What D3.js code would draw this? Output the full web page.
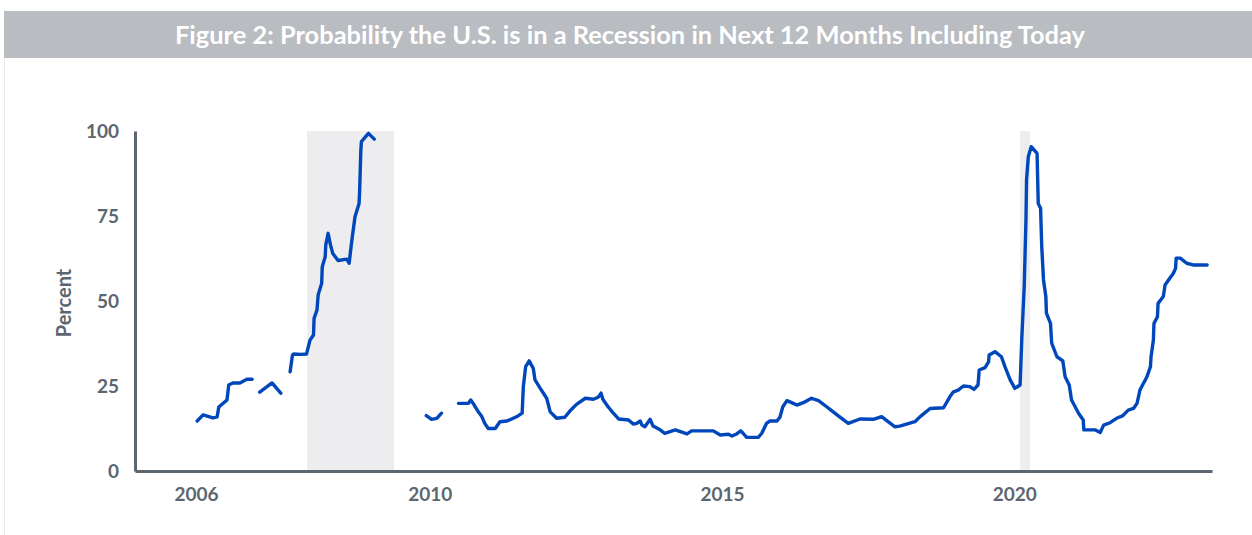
<!DOCTYPE html>
<html>
<head>
<meta charset="utf-8">
<script src="https://cdn.jsdelivr.net/npm/d3@7"></script>
<style>
  body { margin: 0; background: #fff; }
  text { font-family: Lato, "Open Sans", sans-serif; }
</style>
</head>
<body>
<div id="chart"></div>
<script>
const title = 'Figure 2: Probability the U.S. is in a Recession in Next 12 Months Including Today';
const yLabel = 'Percent';
const xTicks = [2006, 2010, 2015, 2020];
const yTicks = [0, 25, 50, 75, 100];

// recession periods (decimal years)
const recessionStart = [2007.90, 2020.10];
const recessionEnd = [2009.39, 2020.27];

// decimal year of each reading, null value = gap in the series
const dates = [
    2006.02, 2006.12, 2006.29, 2006.36, 2006.39, 2006.53, 2006.56, 2006.63, 2006.75, 2006.87, 2006.96,
    2007.02,
    2007.09, 2007.30, 2007.45,
    2007.53,
    2007.61, 2007.65, 2007.67, 2007.80, 2007.89, 2007.95, 2008.01, 2008.02, 2008.07, 2008.09, 2008.15,
    2008.16, 2008.21, 2008.22, 2008.26, 2008.30, 2008.34, 2008.43, 2008.58, 2008.62, 2008.66, 2008.72,
    2008.79, 2008.80, 2008.81, 2008.82, 2008.83, 2008.95, 2009.05,
    2009.50,
    2009.94, 2010.03, 2010.12, 2010.20,
    2010.35,
    2010.49, 2010.66, 2010.70, 2010.76, 2010.83, 2010.89, 2010.94, 2011.00, 2011.12, 2011.20, 2011.32,
    2011.40, 2011.51, 2011.58, 2011.60, 2011.64, 2011.70, 2011.77, 2011.80, 2011.89, 2012.00, 2012.06,
    2012.17, 2012.31, 2012.40, 2012.51, 2012.66, 2012.80, 2012.88, 2012.93, 2012.96, 2013.05, 2013.14,
    2013.23, 2013.40, 2013.48, 2013.54, 2013.60, 2013.63, 2013.68, 2013.77, 2013.82, 2013.94, 2014.02,
    2014.20, 2014.40, 2014.48, 2014.85, 2014.97, 2015.11, 2015.17, 2015.25, 2015.32, 2015.36, 2015.42,
    2015.62, 2015.68, 2015.76, 2015.82, 2015.94, 2015.99, 2016.04, 2016.11, 2016.19, 2016.28, 2016.39,
    2016.53, 2016.65, 2016.79, 2016.88, 2016.99, 2017.16, 2017.36, 2017.59, 2017.73, 2017.84, 2017.96,
    2018.04, 2018.30, 2018.39, 2018.56, 2018.79, 2018.90, 2018.96, 2019.04, 2019.13, 2019.24, 2019.31,
    2019.38, 2019.40, 2019.50, 2019.56, 2019.57, 2019.67, 2019.78, 2019.84, 2019.93, 2020.01, 2020.10,
    2020.13, 2020.17, 2020.20, 2020.21, 2020.24, 2020.29, 2020.39, 2020.41, 2020.45, 2020.47, 2020.50,
    2020.54, 2020.55, 2020.62, 2020.63, 2020.64, 2020.73, 2020.83, 2020.87, 2020.94, 2020.98, 2021.10,
    2021.18, 2021.19, 2021.38, 2021.47, 2021.53, 2021.64, 2021.75, 2021.85, 2021.95, 2022.04, 2022.10,
    2022.15, 2022.27, 2022.33, 2022.34, 2022.38, 2022.39, 2022.45, 2022.46, 2022.55, 2022.58, 2022.66,
    2022.72, 2022.76, 2022.77, 2022.84, 2022.95, 2023.06, 2023.30
];
const probs = [
    14.7, 16.5, 15.6, 15.9, 18.8, 20.9, 25.3, 25.9, 25.9, 27.0, 27.0,
    null,
    23.2, 25.9, 22.9,
    null,
    29.2, 34.1, 34.4, 34.3, 34.4, 38.5, 40.0, 44.9, 47.4, 51.8, 55.2,
    60.1, 63.0, 66.5, 69.9, 66.5, 64.0, 61.9, 62.3, 61.1, 67.0, 74.8,
    78.7, 82.6, 88.5, 94.4, 96.9, 99.3, 97.6,
    null,
    16.3, 15.2, 15.5, 17.0,
    null,
    19.9, 19.9, 20.9, 19.4, 17.4, 16.0, 14.0, 12.5, 12.5, 14.5, 14.7,
    15.3, 16.2, 17.0, 24.8, 30.7, 32.4, 30.2, 26.8, 24.3, 21.4, 17.4,
    15.5, 15.8, 17.7, 19.6, 21.4, 21.1, 21.7, 22.9, 21.1, 18.9, 17.0,
    15.3, 15.0, 13.8, 14.0, 14.7, 13.5, 13.0, 15.2, 13.2, 12.1, 11.1,
    12.1, 10.9, 11.8, 11.8, 10.6, 10.8, 10.3, 10.9, 11.8, 11.1, 9.9,
    9.9, 11.1, 14.0, 14.7, 14.7, 15.8, 18.9, 20.7, 20.1, 19.4, 20.1,
    21.4, 20.7, 18.9, 17.7, 16.2, 14.0, 15.3, 15.2, 16.0, 14.5, 13.0,
    13.2, 14.5, 16.0, 18.4, 18.6, 21.9, 23.3, 23.8, 25.0, 24.8, 24.0,
    25.3, 29.7, 30.4, 32.1, 34.1, 35.1, 33.6, 30.7, 26.8, 24.3, 25.3,
    39.5, 54.2, 73.8, 85.6, 92.4, 95.4, 93.4, 78.7, 77.3, 66.0, 56.2,
    51.3, 46.4, 43.4, 40.5, 37.6, 33.6, 32.4, 27.7, 25.3, 20.9, 17.0,
    15.0, 12.1, 12.1, 11.3, 13.5, 14.2, 15.5, 16.2, 17.9, 18.4, 19.9,
    23.8, 27.7, 30.7, 33.6, 38.5, 43.4, 45.4, 49.3, 51.3, 54.7, 56.7,
    58.1, 59.6, 62.6, 62.6, 61.1, 60.6, 60.6
];

const W = 1252, H = 535;
const margin = { top: 131, right: 40, bottom: 64, left: 135 };
const width = W - margin.left - margin.right;
const height = H - margin.top - margin.bottom;
const axisColor = '#5b6670';

const svg = d3.select('#chart').append('svg').attr('width', W).attr('height', H);

// title band
svg.append('rect').attr('x', 4).attr('y', 11).attr('width', W - 4).attr('height', 47).attr('fill', '#b9bcc1');
svg.append('line').attr('x1', 4.5).attr('x2', 4.5).attr('y1', 58).attr('y2', H).attr('stroke', '#ececee');
svg.append('text').attr('x', 630).attr('y', 35).attr('dy', '0.35em').attr('text-anchor', 'middle')
    .attr('fill', '#fff').style('font-size', '25px').style('font-weight', 700)
    .attr('textLength', 910).attr('lengthAdjust', 'spacingAndGlyphs').text(title);

const g = svg.append('g').attr('transform', `translate(${margin.left}, ${margin.top})`);

const x = d3.scaleLinear().domain([2004.956, 2023.383]).range([0, width]);
const y = d3.scaleLinear().domain([0, 100]).range([height, 0]);

// recession shading
g.selectAll('rect.rec').data(recessionStart).enter().append('rect').attr('class', 'rec')
    .attr('x', d => x(d))
    .attr('width', (d, i) => x(recessionEnd[i]) - x(d))
    .attr('y', y(100)).attr('height', y(0) - y(100))
    .attr('fill', '#ededf0');

const data = dates.map((d, i) => ({ t: d, v: probs[i] }));
const line = d3.line().defined(d => d.v !== null).x(d => x(d.t)).y(d => y(d.v));

g.append('path').datum(data).attr('d', line)
    .attr('fill', 'none').attr('stroke', '#0047bb').attr('stroke-width', 3.4)
    .attr('stroke-linejoin', 'round').attr('stroke-linecap', 'round');

// axes
const xAxis = g.append('g').attr('transform', `translate(0, ${height})`)
    .call(d3.axisBottom(x).tickValues(xTicks).tickFormat(d3.format('d')).tickSize(0).tickPadding(17));
const yAxis = g.append('g')
    .call(d3.axisLeft(y).tickValues(yTicks).tickSize(0).tickPadding(16));

[xAxis, yAxis].forEach(a => {
    a.select('.domain').attr('stroke', axisColor).attr('stroke-width', 3);
    a.selectAll('text').attr('fill', axisColor).style('font-size', '19px').style('font-weight', 700)
        .style('font-family', 'Lato, sans-serif');
});

svg.append('text').attr('transform', `translate(64, 303) rotate(-90)`)
    .attr('text-anchor', 'middle').attr('dy', '0.35em')
    .attr('fill', axisColor).style('font-size', '20px').style('font-weight', 700).text(yLabel);
</script>
</body>
</html>
